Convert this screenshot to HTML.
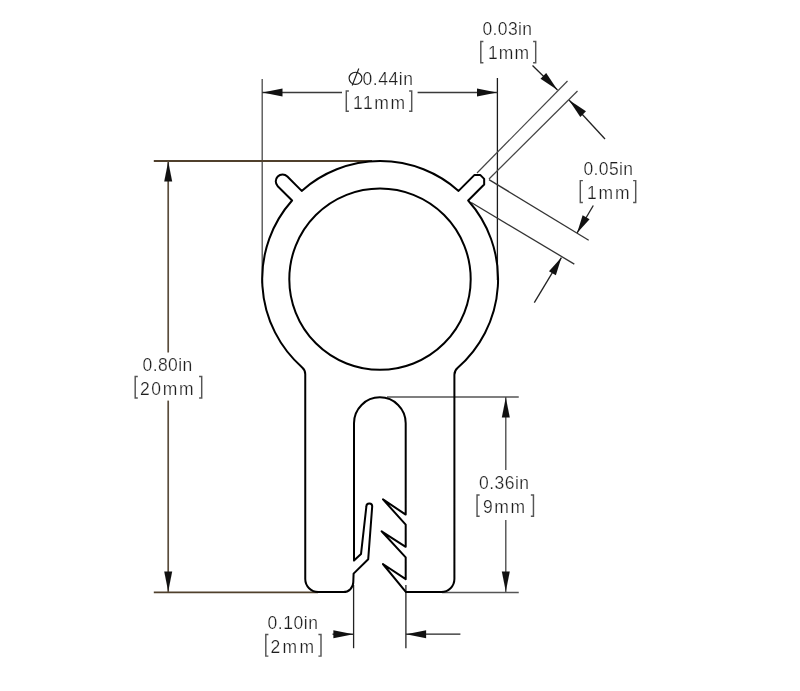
<!DOCTYPE html>
<html><head><meta charset="utf-8"><style>
html,body{margin:0;padding:0;background:#fff;width:800px;height:691px;overflow:hidden}
svg{display:block;will-change:transform}
text{font-family:"Liberation Sans",sans-serif}
</style></head><body>
<svg width="800" height="691" viewBox="0 0 800 691">
<rect width="800" height="691" fill="#fff"/>
<g fill="none">
<line x1="262.2" y1="79" x2="262.2" y2="283.5" stroke="#4a4a4a" stroke-width="1.3"/>
<line x1="497.4" y1="78" x2="497.4" y2="280" stroke="#1a1a1a" stroke-width="1.3"/>
<line x1="262" y1="92.5" x2="342" y2="92.5" stroke="#3a3a3a" stroke-width="1.4"/>
<line x1="417.6" y1="92.5" x2="497.4" y2="92.5" stroke="#3a3a3a" stroke-width="1.4"/>
<line x1="153.8" y1="161" x2="372" y2="161" stroke="#50402c" stroke-width="1.8"/>
<line x1="153.8" y1="592.3" x2="318" y2="592.3" stroke="#50402c" stroke-width="1.8"/>
<line x1="168.2" y1="161" x2="168.2" y2="352.5" stroke="#5a4d3c" stroke-width="1.7"/>
<line x1="168.2" y1="400.6" x2="168.2" y2="592" stroke="#5a4d3c" stroke-width="1.7"/>
<line x1="387" y1="397" x2="518.75" y2="397" stroke="#555" stroke-width="1.4"/>
<line x1="442" y1="592.5" x2="518.75" y2="592.5" stroke="#555" stroke-width="1.4"/>
<line x1="505.8" y1="397" x2="505.8" y2="470" stroke="#444" stroke-width="1.3"/>
<line x1="505.8" y1="520" x2="505.8" y2="592" stroke="#444" stroke-width="1.3"/>
<line x1="353.6" y1="585" x2="353.6" y2="648.2" stroke="#222" stroke-width="1.3"/>
<line x1="405.9" y1="585" x2="405.9" y2="648.2" stroke="#222" stroke-width="1.3"/>
<line x1="332.5" y1="634.2" x2="353.6" y2="634.2" stroke="#222" stroke-width="1.3"/>
<line x1="405.9" y1="634.2" x2="460.4" y2="634.2" stroke="#222" stroke-width="1.3"/>
<line x1="477" y1="173" x2="567.5" y2="81" stroke="#444" stroke-width="1.2"/>
<line x1="489" y1="179" x2="577.5" y2="91" stroke="#444" stroke-width="1.2"/>
<line x1="532.5" y1="65.5" x2="557.5" y2="90" stroke="#222" stroke-width="1.3"/>
<line x1="605" y1="139" x2="569" y2="100" stroke="#222" stroke-width="1.3"/>
<line x1="489" y1="179.6" x2="588.7" y2="240.3" stroke="#333" stroke-width="1.3"/>
<line x1="471.25" y1="202.5" x2="574.3" y2="264.1" stroke="#333" stroke-width="1.3"/>
<line x1="593.3" y1="205.5" x2="577.1" y2="232.9" stroke="#222" stroke-width="1.3"/>
<line x1="534.3" y1="302.7" x2="561.4" y2="257.6" stroke="#222" stroke-width="1.3"/>
</g>
<g fill="#111">
<path d="M262.5,92.5 L282.5,88.5 L282.5,96.5 Z"/>
<path d="M497,92.5 L477,96.5 L477,88.5 Z"/>
<path d="M168.2,161.5 L172.2,181.5 L164.2,181.5 Z"/>
<path d="M168.2,591.5 L164.2,571.5 L172.2,571.5 Z"/>
<path d="M505.8,397.5 L509.8,417.5 L501.8,417.5 Z"/>
<path d="M505.8,591.5 L501.8,571.5 L509.8,571.5 Z"/>
<path d="M353.4,634.2 L333.4,638.2 L333.4,630.2 Z"/>
<path d="M406.1,634.2 L426.1,630.2 L426.1,638.2 Z"/>
<path d="M557.5,90 L540.53,78.69 L546.19,73.03 Z"/>
<path d="M569,100 L585.97,111.31 L580.31,116.97 Z"/>
<path d="M577.1,232.9 L582.64,215.31 L589.56,219.31 Z"/>
<path d="M561.4,257.6 L555.86,275.19 L548.94,271.19 Z"/>
</g>
<path d="M301.69,190.88 L287.36,176.55 A6.8 6.8 0 0 0 277.74,186.17 L292.07,200.5 A117.93 117.93 0 0 0 302.2,367.45 A9 9 0 0 1 305.25,374.2 L305.25,579.1 A13 13 0 0 0 318.25,592.1 L343.3,592.1 A10 10 0 0 0 353.3,582.1 L353.6,573.6 L368.2,559.3 L372.2,506.4 A2.9 2.9 0 0 0 366.4,506.2 L361,554.1 L354,560.6 L354,423.2 A25.85 25.85 0 0 1 405.7,423.2 L405.7,514.6 L383,499.4 L405.7,524.7 L405.7,546.8 L381.6,531.3 L405.7,557.4 L405.7,579.2 L382.9,564 L406,592.1 L441.4,592.1 A13 13 0 0 0 454.4,579.1 L454.4,374.74 A9 9 0 0 1 457.5,367.95 A117.93 117.93 0 0 0 468.19,200.5 L484.16,184.53 L484.16,178.9 L480.17,174.91 L474.54,174.91 L458.57,190.88 A117.93 117.93 0 0 0 301.69,190.88 Z" fill="none" stroke="#000" stroke-width="2.0" stroke-linejoin="round"/>
<circle cx="380" cy="279.15" r="90.7" fill="none" stroke="#000" stroke-width="2.0"/>
<g fill="#1e1e1e" stroke="#fff" stroke-width="0.22">
<text x="482.5" y="34.8" textLength="49.5" lengthAdjust="spacing" font-size="17.5">0.03in</text>
<text x="488" y="59" textLength="41" lengthAdjust="spacing" font-size="17.5">1mm</text>
<text x="362.5" y="84.5" textLength="50.5" lengthAdjust="spacing" font-size="17.5">0.44in</text>
<text x="353" y="109" textLength="52" lengthAdjust="spacing" font-size="17.5">11mm</text>
<text x="583.5" y="174.5" textLength="49.5" lengthAdjust="spacing" font-size="17.5">0.05in</text>
<text x="587" y="199" textLength="42.5" lengthAdjust="spacing" font-size="17.5">1mm</text>
<text x="142.5" y="370.6" textLength="49.75" lengthAdjust="spacing" font-size="17.5">0.80in</text>
<text x="140" y="395" textLength="53.5" lengthAdjust="spacing" font-size="17.5">20mm</text>
<text x="479" y="488.75" textLength="50" lengthAdjust="spacing" font-size="17.5">0.36in</text>
<text x="483" y="512.5" textLength="42" lengthAdjust="spacing" font-size="17.5">9mm</text>
<text x="267.5" y="629" textLength="50.5" lengthAdjust="spacing" font-size="17.5">0.10in</text>
<text x="270.5" y="652.6" textLength="43.5" lengthAdjust="spacing" font-size="17.5">2mm</text>
</g>
<ellipse cx="355.5" cy="78.3" rx="6.4" ry="6.1" fill="none" stroke="#1e1e1e" stroke-width="1.15"/><line x1="358.8" y1="68.5" x2="352.2" y2="85.5" stroke="#1e1e1e" stroke-width="1.15"/>
<g fill="none" stroke="#555555" stroke-width="1.45">
<path d="M483.4,41.5 L480.8,41.5 L480.8,62.8 L483.4,62.8 M533.1,41.5 L535.7,41.5 L535.7,62.8 L533.1,62.8"/>
<path d="M348.9,91 L346.3,91 L346.3,111.3 L348.9,111.3 M409.1,91 L411.7,91 L411.7,111.3 L409.1,111.3"/>
<path d="M582.9,180.6 L580.3,180.6 L580.3,202.4 L582.9,202.4 M633.1,180.6 L635.7,180.6 L635.7,202.4 L633.1,202.4"/>
<path d="M137.8,376.5 L135.2,376.5 L135.2,398.05 L137.8,398.05 M199.1,376.5 L201.7,376.5 L201.7,398.05 L199.1,398.05"/>
<path d="M479.65,495 L477.05,495 L477.05,516.3 L479.65,516.3 M530.85,495 L533.45,495 L533.45,516.3 L530.85,516.3"/>
<path d="M268.4,634.5 L265.8,634.5 L265.8,656.1 L268.4,656.1 M318.4,634.5 L321,634.5 L321,656.1 L318.4,656.1"/>
</g>
</svg>
</body></html>
